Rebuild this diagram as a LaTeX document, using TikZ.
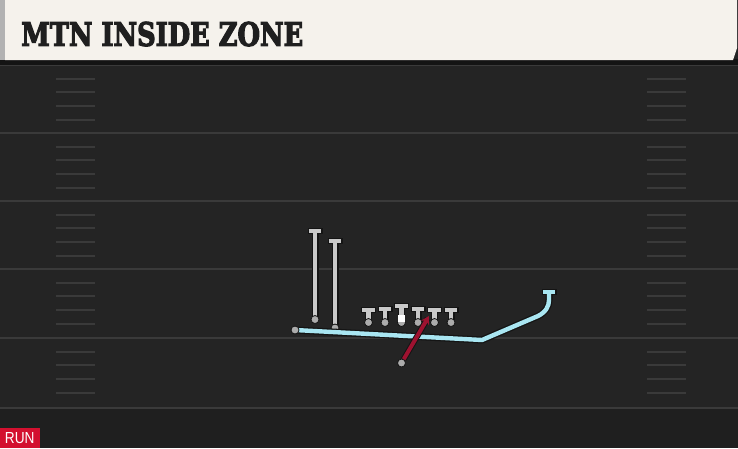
\documentclass[tikz,border=0pt]{standalone}
\usepackage{fontspec}
\setmainfont{DejaVu Serif}
\newfontfamily\titlefont[FakeBold=4]{DejaVu Serif Bold}
\newfontfamily\runfont{Liberation Sans}
\usetikzlibrary{arrows.meta}
\definecolor{field}{HTML}{242424}
\definecolor{fieldlow}{HTML}{1F1F1F}
\definecolor{fieldline}{HTML}{3A3A3A}
\definecolor{hdr}{HTML}{F5F2EC}
\definecolor{routeblue}{HTML}{A9E6F2}
\definecolor{routegrey}{HTML}{C9C9C9}
\definecolor{runred}{HTML}{9E1230}
\definecolor{tagred}{HTML}{D3102F}
\definecolor{edge}{HTML}{141414}
\tikzset{
  yardline/.style={fieldline, line width=2pt},
  hashmark/.style={fieldline, line width=1.8pt},
  outline/.style={edge, line width=7pt},
  greyroute/.style={routegrey, line width=4.4pt},
  blueroute/.style={routeblue, line width=4.4pt},
  plyr/.style={circle, fill=gray!65, draw=edge, line width=0.8pt, inner sep=0pt, minimum size=8pt},
}
\newcommand{\lineman}[3]{% name, x, topy
  \draw[outline] (#2,#3) -- (#2,322);
  \draw[edge, line width=6pt] (#2-7.5,#3) -- (#2+7.5,#3);
  \draw[greyroute] (#2,#3) -- (#2,322);
  \draw[routegrey, line width=3.6pt] (#2-6.3,#3) -- (#2+6.3,#3);
  \node[plyr] (#1) at (#2,322.5) {};
}
\begin{document}
\begin{tikzpicture}[x=1pt,y=-1pt]
\useasboundingbox (0,0) rectangle (738,448);
\fill[field] (0,0) rectangle (738,448);
\fill[fieldlow] (0,408) rectangle (738,448);
% yard lines
\foreach \y in {65,133,201,269,338,408} {
  \draw[yardline] (0,\y) -- (738,\y);
}
% hash marks
\foreach \y in {65,133,201,269,338} {
  \foreach \d in {14,27,41,55} {
    \draw[hashmark] (56,\y+\d) -- (95,\y+\d);
    \draw[hashmark] (647,\y+\d) -- (686,\y+\d);
  }
}
% header
\fill[edge] (0,59) rectangle (738,65);
\fill[hdr] (5,0) -- (737,0) -- (737,48) -- (733,60) -- (5,60) -- cycle;
\fill[gray!60] (0,0) rectangle (5,60);
\node[anchor=south west, inner sep=0pt, text=black!88] (title) at (21,46.5)
  {\resizebox{282pt}{24pt}{\titlefont MTN INSIDE ZONE}};
% RUN tag
\fill[tagred] (0,428) rectangle (40,448);
\node[anchor=south west, text=white, inner sep=0pt] (run) at (4.7,444.3) {\resizebox{29.6pt}{11pt}{\runfont RUN}};
% receivers
\draw[outline] (315,231) -- (315,319);
\draw[edge, line width=6pt] (307.5,231) -- (322.5,231);
\draw[greyroute] (315,231) -- (315,319);
\draw[routegrey, line width=3.6pt] (308.7,231) -- (321.3,231);
\draw[outline] (335,241) -- (335,328);
\draw[edge, line width=6pt] (327.5,241) -- (342.5,241);
\draw[greyroute] (335,241) -- (335,328);
\draw[routegrey, line width=3.6pt] (328.7,241) -- (341.3,241);
\node[plyr] (r1) at (315,319.5) {};
\node[plyr] (r2) at (335,328) {};
% blue route
\coordinate (b1) at (482,340);
\coordinate (b2) at (538,316);
\coordinate (b3) at (549,300);
\coordinate (b4) at (549,292);
\draw[outline, line join=round] (295,330) -- (b1) -- (b2) .. controls (546,312) and (549,306) .. (b3) -- (b4);
\draw[edge, line width=6pt] (541.5,292) -- (556.5,292);
\draw[blueroute, line join=round] (295,330) -- (b1) -- (b2) .. controls (546,312) and (549,306) .. (b3) -- (b4);
\draw[routeblue, line width=3.6pt] (542.7,292) -- (555.3,292);
\node[plyr] (qb) at (295,330) {};
% offensive line
\lineman{l1}{368.5}{310}
\lineman{l2}{385}{309}
\lineman{l3}{401.5}{306}
\lineman{l4}{418}{309}
\lineman{l5}{434.5}{310}
\lineman{l6}{451}{310}
\fill[white] (398,315) rectangle (405,322);
% running back run
\node[plyr] (rb) at (401.5,363) {};
\coordinate (rbend) at (429,316);
\draw[edge, line width=6pt, shorten >=3pt] (rb) -- (rbend);
\draw[runred, line width=4pt, -{Stealth[length=8pt,width=9pt]}] (rb) -- (rbend);
\end{tikzpicture}
\end{document}
